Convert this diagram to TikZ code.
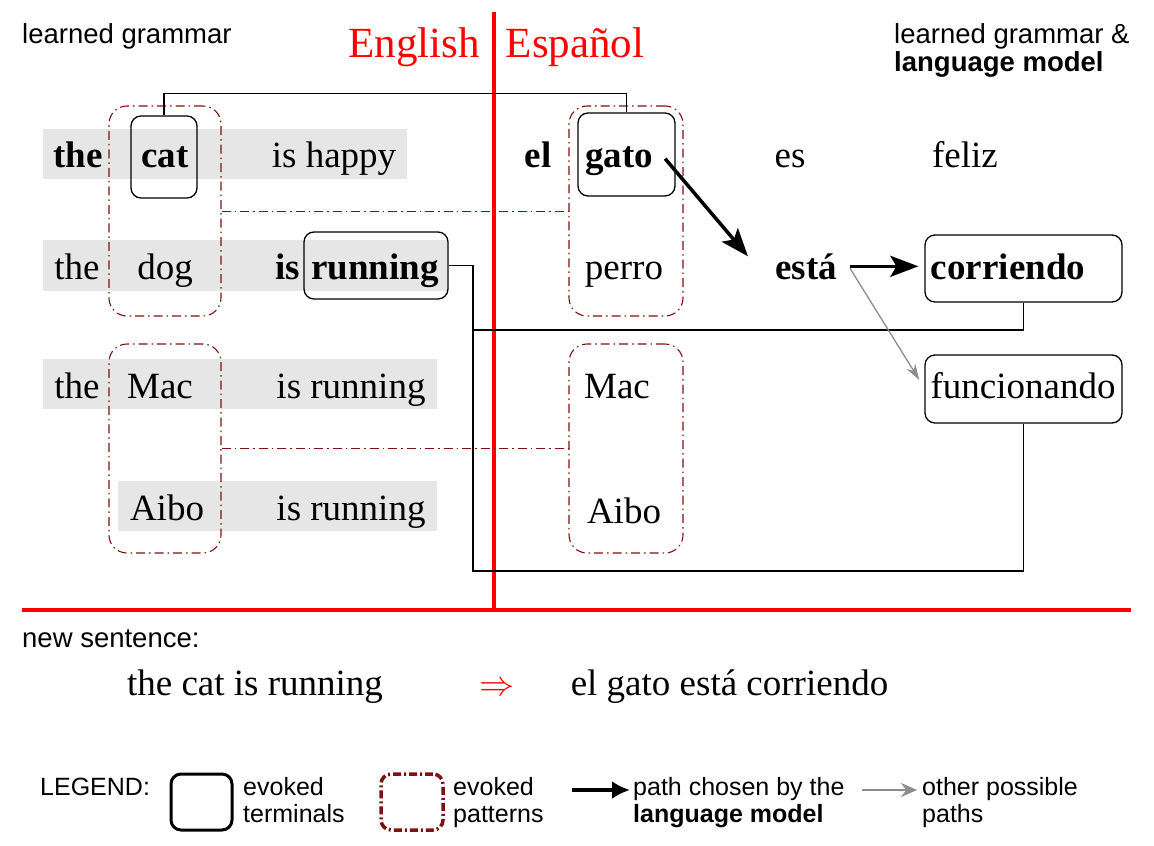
\documentclass[tikz,border=0pt]{standalone}
\usepackage{fontspec}
\setmainfont{Liberation Serif}
\setsansfont{Liberation Sans}
\usetikzlibrary{arrows.meta,calc}
\definecolor{patred}{RGB}{128,16,16}
\definecolor{barg}{RGB}{230,230,230}
\definecolor{engred}{RGB}{255,0,0}
\definecolor{othergray}{RGB}{140,140,140}
\tikzset{
  word/.style={inner sep=0pt,anchor=base,font=\fontsize{37}{44}\selectfont},
  bword/.style={inner sep=0pt,anchor=base,font=\fontsize{37}{44}\selectfont\bfseries},
  sanslab/.style={inner sep=0pt,anchor=base west,font=\fontsize{27.5}{33}\selectfont\sffamily},
  leglab/.style={inner sep=0pt,anchor=base west,font=\fontsize{25}{30}\selectfont\sffamily},
  lang/.style={inner sep=0pt,anchor=base,text=engred,font=\fontsize{43}{50}\selectfont},
  bar/.style={fill=barg,inner sep=0pt,draw=none},
  term/.style={draw,line width=1.3pt,rounded corners=10pt,inner sep=0pt},
  pat/.style={draw=patred,line width=1.1pt,rounded corners=18pt,inner sep=0pt,
    dash pattern=on 9pt off 4pt on 1.5pt off 4pt},
  patlink/.style={draw=patred,line width=1pt,dash pattern=on 9pt off 4pt on 1.5pt off 4pt},
  link/.style={draw,line width=1.3pt},
  redline/.style={draw=engred,line width=4pt},
  chosen/.style={draw,line width=3.5pt,-{Stealth[length=28pt,width=21pt,inset=6pt]}},
  other/.style={draw=othergray,line width=1.3pt,-{Stealth[length=16pt,width=10pt]}},
}
\begin{document}
\begin{tikzpicture}[x=1pt,y=-1pt]
\useasboundingbox (0,0) rectangle (1154,846);

% grey bars
\node[bar,minimum width=364pt,minimum height=50pt] (bar1) at (225,154) {};
\node[bar,minimum width=404pt,minimum height=51pt] (bar2) at (245,265.5) {};
\node[bar,minimum width=394pt,minimum height=50pt] (bar3) at (240,384) {};
\node[bar,minimum width=319pt,minimum height=50pt] (bar4) at (277.5,506) {};

% red separators
\coordinate (vtop) at (494,12);
\coordinate (vbot) at (494,609);
\coordinate (hl) at (22,610);
\coordinate (hr) at (1131,610);
\draw[redline] (vtop) -- (vbot);
\draw[redline] (hl) -- (hr);

% headers
\node[sanslab] (hdl) at (22,43) {learned grammar};
\node[sanslab] (hdr1) at (894,43) {learned grammar \&};
\node[sanslab,font=\fontsize{27.5}{33}\selectfont\sffamily\bfseries] (hdr2) at (894,71) {language model};
\node[lang] (eng) at (414,57) {English};
\node[lang] (esp) at (575,57) {Español};

% English words
\node[bword] (the1) at (78,167) {the};
\node[bword] (cat) at (165,167) {cat};
\node[word] (ishappy) at (334,167) {is happy};
\node[word] (the2) at (77,279) {the};
\node[word] (dog) at (165,279) {dog};
\node[bword] (is2) at (288,279) {is};
\node[bword] (running) at (375,279) {running};
\node[word] (the3) at (77,398) {the};
\node[word] (mac) at (160,398) {Mac};
\node[word] (isrun3) at (351,398) {is running};
\node[word] (aibo) at (167,520) {Aibo};
\node[word] (isrun4) at (351,520) {is running};

% Spanish words
\node[bword] (el) at (538,167) {el};
\node[bword] (gato) at (619,167) {gato};
\node[word] (es) at (790,167) {es};
\node[word] (feliz) at (965,167) {feliz};
\node[word] (perro) at (624,279) {perro};
\node[bword] (esta) at (806,279) {está};
\node[bword] (corriendo) at (1008,279) {corriendo};
\node[word] (macs) at (617,398) {Mac};
\node[word] (funcionando) at (1023,398) {funcionando};
\node[word] (aibos) at (624,523) {Aibo};

% terminal boxes
\node[term,minimum width=66pt,minimum height=82pt] (catbox) at (164,157) {};
\node[term,minimum width=144pt,minimum height=67pt] (runbox) at (376,265.5) {};
\node[term,minimum width=97pt,minimum height=83pt] (gatobox) at (626.5,154.5) {};
\node[term,minimum width=197pt,minimum height=67pt] (corrbox) at (1023.5,268.5) {};
\node[term,minimum width=197pt,minimum height=68pt] (funcbox) at (1023.5,389) {};

% pattern boxes
\node[pat,minimum width=112pt,minimum height=210pt] (patL1) at (165,211) {};
\node[pat,minimum width=114pt,minimum height=210pt] (patR1) at (626,211) {};
\node[pat,minimum width=112pt,minimum height=209pt] (patL2) at (165,448.5) {};
\node[pat,minimum width=114pt,minimum height=209pt] (patR2) at (626,448.5) {};

\draw[patlink] (patL1.east) -- (patR1.west);
\draw[patlink] (patL2.east) -- (patR2.west);

% alignment links
\draw[link] (catbox.north) -- ++(0,-22) -| (gatobox.north);
\coordinate (loopA) at (473,330);
\coordinate (loopB) at (473,571);
\draw[link] (runbox.east) -| (loopB) -| (funcbox.south);
\draw[link] (loopA) -| (corrbox.south);

% language model paths
\draw[chosen] ([xshift=12pt,yshift=2pt]gato.east) -- ([xshift=-27pt,yshift=10pt]esta.west);
\draw[chosen,shorten >=6pt] ([xshift=13pt]esta.east) -- (esta.east -| corrbox.west);
\draw[other] ([xshift=13pt,yshift=-2pt]esta.east) -- ([xshift=-5pt,yshift=9pt]funcbox.west);

% new sentence
\node[sanslab] (newsent) at (22,647) {new sentence:};
\node[word] (srcsent) at (255,695) {the cat is running};
\node[word,text=engred] (implies) at (497,695) {\scalebox{3.5}{\fontsize{10}{12}\selectfont$\Rightarrow$}};
\node[word] (tgtsent) at (729.5,695) {el gato está corriendo};

% legend
\node[leglab] (legend) at (40,795) {LEGEND:};
\node[draw,line width=3pt,rounded corners=10pt,minimum width=61pt,minimum height=56pt,inner sep=0pt] (legterm) at (201.5,802) {};
\node[leglab] (lt1) at (243,795) {evoked};
\node[leglab] (lt2) at (243,822) {terminals};
\node[draw=patred,line width=3.5pt,rounded corners=10pt,minimum width=62pt,minimum height=56pt,inner sep=0pt,
  dash pattern=on 8pt off 3pt on 2pt off 3pt] (legpat) at (412,802) {};
\node[leglab] (lp1) at (453,795) {evoked};
\node[leglab] (lp2) at (453,822) {patterns};
\coordinate (la1s) at (572,790);
\coordinate (la1e) at (630,790);
\draw[line width=3.5pt,-{Latex[length=18pt,width=18pt]}] (la1s) -- (la1e);
\node[leglab] (lc1) at (633,795) {path chosen by the};
\node[leglab,font=\fontsize{25}{30}\selectfont\sffamily\bfseries] (lc2) at (633,822) {language model};
\coordinate (la2s) at (862,790);
\coordinate (la2e) at (917,790);
\draw[othergray,line width=2.2pt,-{Stealth[length=16pt,width=14pt]}] (la2s) -- (la2e);
\node[leglab] (lo1) at (922,795) {other possible};
\node[leglab] (lo2) at (922,822) {paths};
\end{tikzpicture}
\end{document}
